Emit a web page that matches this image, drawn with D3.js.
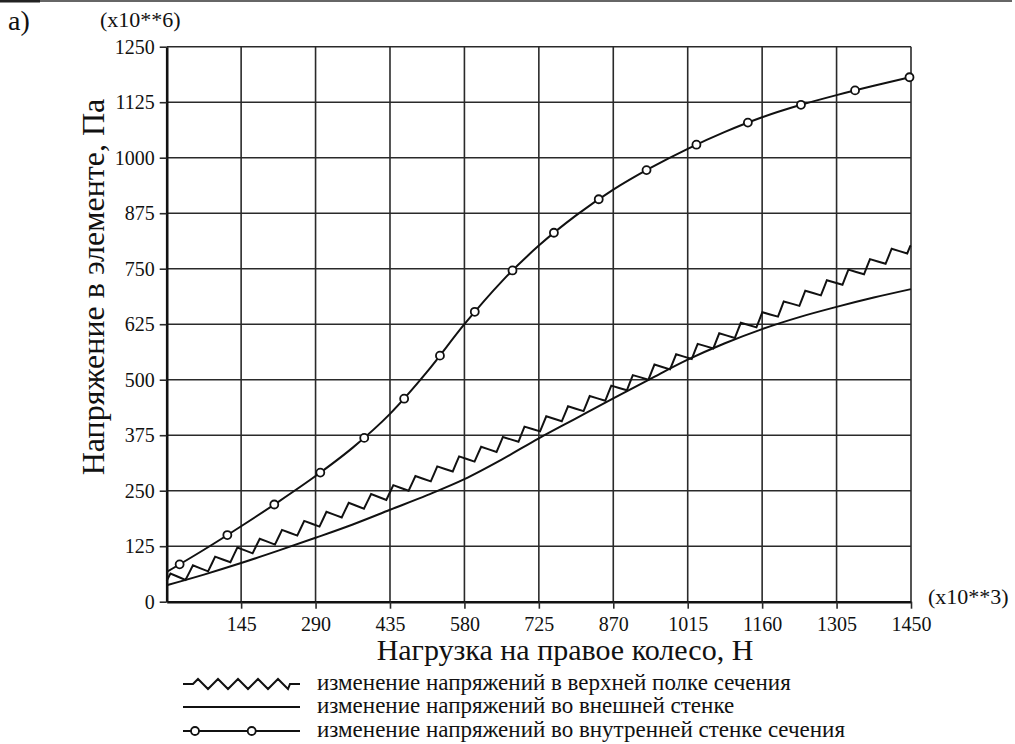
<!DOCTYPE html>
<html>
<head>
<meta charset="utf-8">
<script src="https://cdn.jsdelivr.net/npm/d3@7/dist/d3.min.js"></script>
<style>
body { margin: 0; background: #fff; }
</style>
</head>
<body>
<svg id="chart" width="1015" height="744" font-family="Liberation Serif, serif"></svg>
<script>
// Load on the right wheel (x10**3 N), the same sample points for every curve
const loadValues = [0, 72.5, 145, 217.5, 290, 362.5, 435, 507.5, 580, 652.5, 725,
                    797.5, 870, 942.5, 1015, 1087.5, 1160, 1232.5, 1305, 1377.5, 1450];
const xTicks = [145, 290, 435, 580, 725, 870, 1015, 1160, 1305, 1450];
const yTicks = [0, 125, 250, 375, 500, 625, 750, 875, 1000, 1125, 1250];

// Stress (x10**6 Pa)
// top flange (drawn with the zigzag line style, values are its centre line)
const topFlange = [47, 78, 112, 145, 179, 213, 246, 281, 319, 356, 396,
                   435, 475, 516, 556, 597, 638, 680, 721, 762, 802];
// outer wall (plain line)
const outerWall = [37, 61, 87, 115, 144, 174, 207, 240, 276, 320, 368,
                   413, 458, 502, 545, 582, 614, 641, 664, 685, 704];
// inner wall (line with circles)
const innerWall = [67, 117, 170, 225, 283, 347, 423, 518, 625, 721, 802,
                   870, 928, 977, 1020, 1058, 1091, 1118, 1141, 1162, 1182];

const legendLabels = [
    "изменение напряжений в верхней полке сечения",
    "изменение напряжений во внешней стенке",
    "изменение напряжений во внутренней стенке сечения"
];

const fontName = "Liberation Serif";
const inkColor = "#111";
const svg = d3.select("#chart");

// Plot area
const x = d3.scaleLinear().domain([0, 1450]).range([166.7, 911]);
const y = d3.scaleLinear().domain([0, 1250]).range([601.7, 46.7]);

// Thin rule along the top of the page
svg.append("line").attr("x1", 0).attr("x2", 1012).attr("y1", 1).attr("y2", 1)
    .attr("stroke", "#666").attr("stroke-width", 2);
svg.append("line").attr("x1", 0).attr("x2", 40).attr("y1", 1).attr("y2", 1)
    .attr("stroke", "#222").attr("stroke-width", 3);

// Grid lines
svg.append("g").selectAll("line").data(yTicks.slice(1)).join("line")
    .attr("x1", x(0)).attr("x2", x(1450))
    .attr("y1", d => y(d)).attr("y2", d => y(d))
    .attr("stroke", "#2a2a2a").attr("stroke-width", 1.6);
svg.append("g").selectAll("line").data(xTicks).join("line")
    .attr("x1", d => x(d)).attr("x2", d => x(d))
    .attr("y1", y(0)).attr("y2", y(1250))
    .attr("stroke", "#2a2a2a").attr("stroke-width", 1.6);

// Axes
const xAxis = d3.axisBottom(x).tickValues(xTicks).tickFormat(d3.format("d"))
    .tickSize(7).tickPadding(8).tickSizeOuter(0);
const yAxis = d3.axisLeft(y).tickValues(yTicks).tickFormat(d3.format("d"))
    .tickSize(7).tickPadding(5).tickSizeOuter(0);

const gx = svg.append("g").attr("transform", `translate(0,${y(0)})`).call(xAxis);
const gy = svg.append("g").attr("transform", `translate(${x(0)},0)`).call(yAxis);
for (let g of [gx, gy]) {
    g.attr("font-family", fontName).attr("font-size", 20);
    g.select(".domain").attr("stroke", inkColor).attr("stroke-width", 2.6);
    g.selectAll(".tick line").attr("stroke", "#2a2a2a").attr("stroke-width", 1.6);
    g.selectAll(".tick text").attr("fill", inkColor);
}

// Axis titles and multipliers
function addText(px, py, str, size) {
    return svg.append("text").attr("x", px).attr("y", py)
        .attr("font-family", fontName).attr("font-size", size)
        .attr("fill", inkColor).text(str);
}
addText(8, 30, "a)", 28);
addText(100, 27, "(x10**6)", 22);
addText(928, 604, "(x10**3)", 22);
addText(0, 0, "Напряжение в элементе, Па", 32)
    .attr("transform", "translate(104,287) rotate(-90)")
    .attr("text-anchor", "middle");
addText(565, 660, "Нагрузка на правое колесо, Н", 30)
    .attr("text-anchor", "middle");

// Curves
function curvePath(values) {
    return d3.line()
        .curve(d3.curveMonotoneX)
        .x((d, i) => x(loadValues[i]))
        .y(d => y(d))(values);
}

// Zigzag line style: a triangle wave laid along a guide path
function zigzag(node, period, amp) {
    let len = node.getTotalLength();
    let step = period / 4;
    let pts = [];
    let i = 0;
    for (let s = 0; s <= len; s += step, i++) {
        let p = node.getPointAtLength(s);
        let a = node.getPointAtLength(Math.max(0, s - 1));
        let b = node.getPointAtLength(Math.min(len, s + 1));
        let dx = b.x - a.x, dy = b.y - a.y, d = Math.hypot(dx, dy);
        let k = [0, 1, 0, -1][i % 4] * amp;
        pts.push([p.x + dy / d * k, p.y - dx / d * k]);
    }
    let end = node.getPointAtLength(len);
    pts.push([end.x, end.y]);
    return pts;
}

// Markers along a guide path at a fixed spacing
function markerPoints(node, offset, spacing) {
    let len = node.getTotalLength();
    let pts = [];
    for (let s = offset; s <= len; s += spacing) {
        let p = node.getPointAtLength(s);
        pts.push([p.x, p.y]);
    }
    return pts;
}

const plotLines = svg.append("g").attr("fill", "none").attr("stroke", inkColor)
    .attr("stroke-width", 2).attr("stroke-linejoin", "miter");

// outer wall
plotLines.append("path").attr("d", curvePath(outerWall));

// top flange: hidden guide, then zigzag
let guide = plotLines.append("path").attr("d", curvePath(topFlange)).attr("stroke", "none");
plotLines.append("path").attr("d", d3.line()(zigzag(guide.node(), 24, 5.5)));

// inner wall with circles
let inner = plotLines.append("path").attr("d", curvePath(innerWall));
svg.append("g").selectAll("circle").data(markerPoints(inner.node(), 15, 56)).join("circle")
    .attr("cx", d => d[0]).attr("cy", d => d[1]).attr("r", 4)
    .attr("fill", "#fff").attr("stroke", inkColor).attr("stroke-width", 1.8);

// Legend
const legendX0 = 183, legendX1 = 300;
const legendY = [684, 707, 731];
const legend = svg.append("g").attr("fill", "none").attr("stroke", inkColor).attr("stroke-width", 2);

let legGuide = legend.append("path").attr("d", `M${legendX0 + 10},${legendY[0]}H${legendX1 - 10}`).attr("stroke", "none");
let legZig = zigzag(legGuide.node(), 20, 5);
legend.append("path").attr("d", d3.line()([[legendX0, legendY[0]], ...legZig, [legendX1, legendY[0]]]));

legend.append("line").attr("x1", legendX0).attr("x2", legendX1)
    .attr("y1", legendY[1]).attr("y2", legendY[1]);

let legCirc = legend.append("path").attr("d", `M${legendX0},${legendY[2]}H${legendX1}`);
svg.append("g").selectAll("circle").data(markerPoints(legCirc.node(), 12, 56.7)).join("circle")
    .attr("cx", d => d[0]).attr("cy", d => d[1]).attr("r", 4)
    .attr("fill", "#fff").attr("stroke", inkColor).attr("stroke-width", 1.8);

svg.append("g").selectAll("text").data(legendLabels).join("text")
    .attr("x", 317).attr("y", (d, i) => legendY[i] + 6)
    .attr("font-family", fontName).attr("font-size", 23)
    .attr("fill", inkColor).text(d => d);
</script>
</body>
</html>
